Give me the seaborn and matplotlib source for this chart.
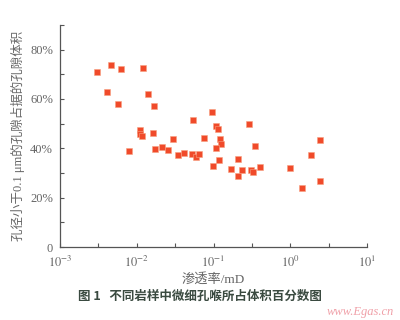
import matplotlib
matplotlib.use("Agg")
import matplotlib.pyplot as plt
import matplotlib.ticker as mticker
import numpy as np
import pandas as pd
import seaborn as sns

# permeability (mD)
permeability = [0.0030, 0.00455, 0.00625, 0.0120, 0.00404, 0.00571, 0.0142, 0.0167,
                0.0109, 0.0111, 0.0117, 0.0165, 0.00792, 0.0175, 0.0213, 0.0258,
                0.0295, 0.0341, 0.0418, 0.0518, 0.0584, 0.0644, 0.0545, 0.0741,
                0.0951, 0.1094, 0.115, 0.120, 0.127, 0.1077, 0.118, 0.0988,
                0.167, 0.291, 0.343, 0.207, 0.237, 0.304, 0.323, 0.399,
                0.206, 1.006, 2.42, 1.88, 2.41, 1.43]
# fraction of pore volume from pores < 0.1 um
fine_fraction = [0.711, 0.736, 0.720, 0.727, 0.627, 0.580, 0.620, 0.573,
                 0.473, 0.460, 0.450, 0.464, 0.389, 0.398, 0.407, 0.393,
                 0.439, 0.371, 0.380, 0.377, 0.366, 0.376, 0.513, 0.441,
                 0.548, 0.489, 0.479, 0.437, 0.419, 0.403, 0.354, 0.328,
                 0.318, 0.499, 0.411, 0.357, 0.311, 0.311, 0.306, 0.323,
                 0.286, 0.320, 0.433, 0.374, 0.269, 0.241]

y_ticks = [0, 0.2, 0.4, 0.6, 0.8]
y_tick_labels = ["0", "20%", "40%", "60%", "80%"]
x_ticks = [1e-3, 1e-2, 1e-1, 1e0, 1e1]
x_tick_labels = ["$10^{-3}$", "$10^{-2}$", "$10^{-1}$", "$10^{0}$", "$10^{1}$"]

df = pd.DataFrame({"perm": permeability, "frac": fine_fraction})

sns.set_style("ticks")
plt.rcParams["font.family"] = ["Liberation Serif", "Noto Sans CJK SC", "DejaVu Sans"]
plt.rcParams["mathtext.fontset"] = "stix"

fig = plt.figure(figsize=(4, 3.2), dpi=100)
ax = fig.add_axes([0.15, 0.228, 0.7675, 0.694])

sns.scatterplot(data=df, x="perm", y="frac", marker="s", s=22, color="#f04a2a",
                edgecolor="#f7a080", linewidth=0.4, ax=ax, legend=False)

ax.set_xscale("log")
ax.set_xlim(1e-3, 1e1)
ax.set_ylim(0, 0.9)
ax.set_xticks(x_ticks)
ax.set_xticklabels(x_tick_labels)
ax.xaxis.set_minor_locator(mticker.FixedLocator([10 ** e for e in (-2.5, -1.5, -0.5, 0.5)]))
ax.xaxis.set_minor_formatter(mticker.NullFormatter())
ax.set_yticks(y_ticks)
ax.set_yticklabels(y_tick_labels)
ax.yaxis.set_minor_locator(mticker.FixedLocator([0.1, 0.3, 0.5, 0.7, 0.9]))

gray = "#666666"
for side in ("top", "right"):
    ax.spines[side].set_visible(False)
for side in ("left", "bottom"):
    ax.spines[side].set_color("#555555")
    ax.spines[side].set_linewidth(0.9)
ax.tick_params(which="both", direction="in", color="#555555", labelcolor=gray,
               labelsize=9, length=3, width=0.8)
ax.tick_params(which="minor", length=3)
ax.tick_params(axis="x", pad=6)
ax.tick_params(axis="y", pad=5)

ax.set_xlabel("渗透率/mD", fontsize=9.5, color=gray,
              family=["Liberation Serif", "Noto Sans CJK SC"], labelpad=2)
ax.set_ylabel("")
fig.text(0.045, 0.575, "孔径小于0.1 μm的孔隙占据的孔隙体积", rotation=90,
         ha="center", va="center", fontsize=9, color=gray,
         family=["Liberation Serif", "Noto Sans CJK SC"])

fig.text(0.5, 0.075, "图 1   不同岩样中微细孔喉所占体积百分数图", ha="center", va="center",
         fontsize=9, color="#3a4a40", fontweight="bold",
         family=["Noto Sans CJK SC", "DejaVu Sans"])
fig.text(0.985, 0.025, "www.Egas.cn", ha="right", va="center", fontsize=9,
         color="#f0a0a8", style="italic", family=["Liberation Serif"])

fig.savefig("out.png", dpi=100)
